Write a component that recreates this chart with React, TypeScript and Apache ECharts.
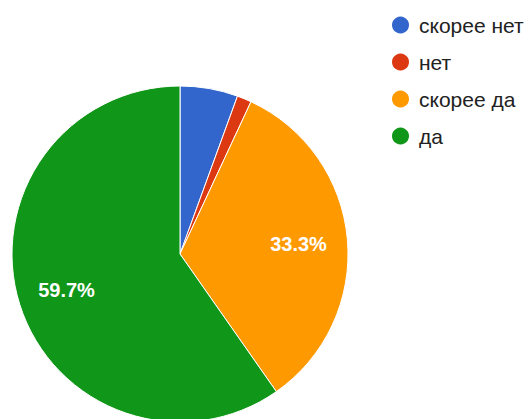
import React, { useEffect, useRef } from "react";
import * as echarts from "echarts";

const categories = ["скорее нет", "нет", "скорее да", "да"];
const counts = [4, 1, 24, 43];
const colors = ["#3366cc", "#dc3912", "#ff9900", "#109618"];

const FONT = "Arial, 'Liberation Sans', sans-serif";

export default function App() {
  const ref = useRef<HTMLDivElement>(null);
  useEffect(() => {
    if (!ref.current) return;
    const chart = echarts.init(ref.current, undefined, { renderer: "svg" });
    const data = categories.map((name, i) => ({
      name,
      value: counts[i],
      itemStyle: { color: colors[i] },
    }));
    chart.setOption({
      animation: false,
      backgroundColor: "#ffffff",
      legend: {
        orient: "vertical",
        left: 385,
        top: 8,
        icon: "circle",
        itemWidth: 19,
        itemHeight: 19,
        itemGap: 13,
        data: categories,
        textStyle: {
          fontFamily: FONT,
          fontSize: 21,
          lineHeight: 24,
          color: "#222222",
          padding: [0, 0, 0, 4],
        },
      },
      series: [
        {
          type: "pie",
          center: [180, 254],
          radius: [0, 168],
          startAngle: 90,
          clockwise: true,
          avoidLabelOverlap: false,
          label: { show: false },
          labelLine: { show: false },
          itemStyle: { borderColor: "#ffffff", borderWidth: 1 },
          emphasis: { disabled: true },
          data,
        },
        {
          type: "pie",
          center: [180, 254],
          radius: [64, 168],
          startAngle: 90,
          clockwise: true,
          silent: true,
          avoidLabelOverlap: false,
          percentPrecision: 1,
          minShowLabelAngle: 30,
          label: {
            show: true,
            position: "inside",
            formatter: "{d}%",
            color: "#ffffff",
            fontFamily: FONT,
            fontSize: 20,
            fontWeight: "bold",
          },
          labelLine: { show: false },
          itemStyle: { color: "transparent" },
          emphasis: { disabled: true },
          data: categories.map((name, i) => ({ name, value: counts[i] })),
        },
      ],
    });
    return () => chart.dispose();
  }, []);
  return (
    <div
      ref={ref}
      style={{ position: "fixed", left: 0, top: 0, width: 529, height: 419 }}
    />
  );
}
